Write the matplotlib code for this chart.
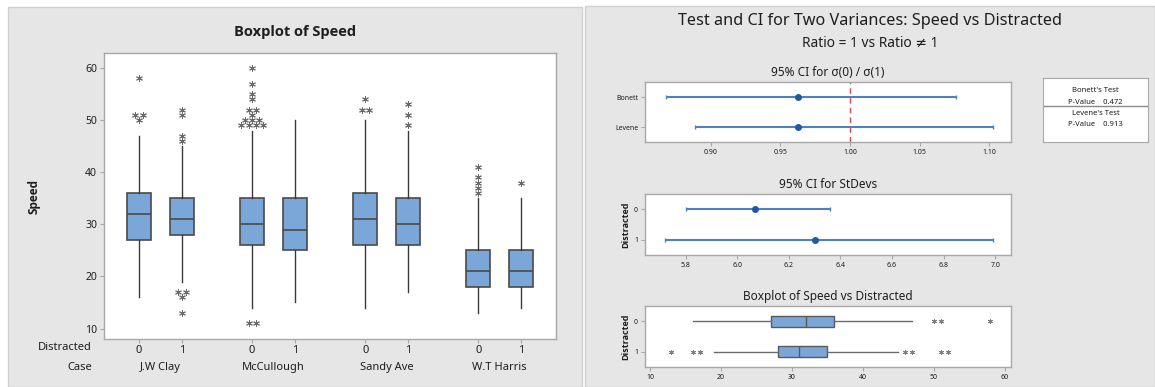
import numpy as np
import matplotlib
matplotlib.use('Agg')
import matplotlib.pyplot as plt
from matplotlib.patches import Rectangle
from collections import Counter

plt.rcParams['font.family'] = ['Noto Sans', 'DejaVu Sans']
BOLDFONT = ['Open Sans', 'Lato', 'DejaVu Sans']

cases = ['J.W Clay', 'McCullough', 'Sandy Ave', 'W.T Harris']
distracted = ['0', '1']
q1 = [27, 28, 26, 25, 26, 26, 18, 18]
med = [32, 31, 30, 29, 31, 30, 21, 21]
q3 = [36, 35, 35, 35, 36, 35, 25, 25]
whislo = [16, 19, 14, 15, 14, 17, 13, 14]
whishi = [47, 45, 48, 50, 50, 48, 35, 35]
outliers = [
    [58, 51, 51, 50],
    [52, 51, 47, 46, 17, 17, 16, 13],
    [60, 57, 55, 54, 52, 52, 51, 50, 50, 50, 49, 49, 49, 49, 11, 11],
    [],
    [54, 52, 52],
    [53, 51, 49],
    [41, 39, 38, 37, 36],
    [38],
]

ratio_methods = ['Bonett', 'Levene']
ratio_est = [0.963, 0.963]
ratio_lo = [0.868, 0.889]
ratio_hi = [1.076, 1.103]

sd_est = [6.07, 6.30]
sd_lo = [5.80, 5.72]
sd_hi = [6.36, 6.99]

bonett_p = 0.472
levene_p = 0.913

# ---- layout helpers (pixels -> figure fraction) ----
W, H = 1155, 387
def box(l, t, r, b):
    return [l / W, 1 - b / H, (r - l) / W, (b - t) / H]

BLUE = '#7aa6d8'
EDGE = '#4a4a4a'
SPINE = '#a8a8a8'
TXT = '#1e1e1e'
CI = '#4a82c4'

fig = plt.figure(figsize=(W / 100, H / 100), dpi=100)
fig.patch.set_facecolor('white')
fig.add_artist(Rectangle((8 / W, 0), (582 - 8) / W, 1 - 7 / H, transform=fig.transFigure,
                         facecolor='#e6e6e6', edgecolor='#d0d0d0', lw=1, zorder=-5))
fig.add_artist(Rectangle((585 / W, 0), (W - 585) / W, 1 - 6 / H, transform=fig.transFigure,
                         facecolor='#e6e6e6', edgecolor='#d0d0d0', lw=1, zorder=-5))

def style(ax, lsize):
    for s in ax.spines.values():
        s.set_color(SPINE)
        s.set_linewidth(1)
    ax.tick_params(colors=SPINE, labelcolor=TXT, labelsize=lsize, length=3, width=0.8, pad=2)

# ---- left: boxplot of speed by case / distracted ----
ax = fig.add_axes(box(104, 53, 556, 339))
style(ax, 7.5)
gap = 2.63
pos = [g * gap + d for g in range(len(cases)) for d in range(len(distracted))]
stats = []
for i in range(len(pos)):
    stats.append(dict(med=med[i], q1=q1[i], q3=q3[i], whislo=whislo[i], whishi=whishi[i], fliers=[]))
ax.bxp(stats, positions=pos, widths=0.55, patch_artist=True, showfliers=False, showcaps=False,
       boxprops=dict(facecolor=BLUE, edgecolor=EDGE, lw=1.2),
       medianprops=dict(color=EDGE, lw=1.2),
       whiskerprops=dict(color='#3a3a3a', lw=1))
# identical outliers are spread side by side, as Minitab does
for i, vals in enumerate(outliers):
    for v, n in Counter(vals).items():
        offs = (np.arange(n) - (n - 1) / 2) * 0.165
        ax.plot(pos[i] + offs, [v] * n, ls='none', marker=(6, 2, 0), ms=4.8, mew=0.7, color='#6a6a6a')
ax.set_xlim(-0.815, 9.70)
ax.set_ylim(7.99, 62.88)
ax.set_yticks([10, 20, 30, 40, 50, 60])
ax.set_xticks(pos)
ax.set_xticklabels(distracted * len(cases))
ax.tick_params(axis='x', pad=1, labelsize=8)
ax.set_ylabel('Speed', fontsize=8.5, fontweight='bold', family=BOLDFONT, color=TXT, labelpad=32)
tr = ax.get_xaxis_transform()
for g, name in enumerate(cases):
    ax.text(g * gap + 0.5, -0.098, name, transform=tr, ha='center', va='center', fontsize=8, color=TXT)
ax.text(-0.027, -0.031, 'Distracted', transform=ax.transAxes, ha='right', va='center', fontsize=8, color=TXT)
ax.text(-0.027, -0.098, 'Case', transform=ax.transAxes, ha='right', va='center', fontsize=8, color=TXT)
fig.text(295 / W, 1 - 32 / H, 'Boxplot of Speed', ha='center', va='center', fontsize=10.5,
         fontweight='bold', family=BOLDFONT, color=TXT)

# ---- right: two variances test ----
fig.text(870 / W, 1 - 21 / H, 'Test and CI for Two Variances: Speed vs Distracted', ha='center',
         va='center', fontsize=11.7, color=TXT)
fig.text(870 / W, 1 - 43 / H, 'Ratio = 1 vs Ratio \u2260 1', ha='center', va='center',
         fontsize=9.9, color=TXT)

ax1 = fig.add_axes(box(645, 82, 1011, 142))
style(ax1, 5)
y = np.arange(len(ratio_methods))
est = np.array(ratio_est)
ax1.errorbar(est, y, xerr=[est - np.array(ratio_lo), np.array(ratio_hi) - est], fmt='o', color=CI,
             mfc='#1f58a6', mec='#1f58a6', ms=4, elinewidth=1.5, capsize=1.5, capthick=1)
ax1.axvline(1.0, color='#e04848', ls=(0, (4, 3)), lw=1)
ax1.set_xlim(0.853, 1.1156)
ax1.set_ylim(1.5, -0.5)
ax1.set_yticks(y)
ax1.set_yticklabels(ratio_methods)
ax1.set_xticks([0.90, 0.95, 1.00, 1.05, 1.10])
ax1.set_xticklabels(['0.90', '0.95', '1.00', '1.05', '1.10'])
ax1.set_title('95% CI for \u03c3(0) / \u03c3(1)', fontsize=8.5, color=TXT, pad=4)

ax2 = fig.add_axes(box(645, 194, 1011, 255))
style(ax2, 5)
est = np.array(sd_est)
y = np.arange(len(distracted))
ax2.errorbar(est, y, xerr=[est - np.array(sd_lo), np.array(sd_hi) - est], fmt='o', color=CI,
             mfc='#1f58a6', mec='#1f58a6', ms=4, elinewidth=1.5, capsize=1.5, capthick=1)
ax2.set_xlim(5.643, 7.061)
ax2.set_ylim(1.5, -0.5)
ax2.set_yticks(y)
ax2.set_yticklabels(distracted)
ax2.set_xticks([5.8, 6.0, 6.2, 6.4, 6.6, 6.8, 7.0])
ax2.set_xticklabels(['5.8', '6.0', '6.2', '6.4', '6.6', '6.8', '7.0'])
ax2.set_ylabel('Distracted', fontsize=6.5, fontweight='bold', family=BOLDFONT, color=TXT, labelpad=3)
ax2.set_title('95% CI for StDevs', fontsize=8.5, color=TXT, pad=4)

ax3 = fig.add_axes(box(645, 306, 1011, 367))
style(ax3, 5)
stats3 = [dict(med=med[i], q1=q1[i], q3=q3[i], whislo=whislo[i], whishi=whishi[i], fliers=[])
          for i in range(2)]
ax3.bxp(stats3, positions=y, widths=0.36, vert=False, patch_artist=True, showfliers=False,
        showcaps=False, boxprops=dict(facecolor=BLUE, edgecolor='#5a5a5a', lw=1),
        medianprops=dict(color='#5a5a5a', lw=1), whiskerprops=dict(color='#6a6a6a', lw=1))
for i in range(2):
    ax3.plot(outliers[i], [y[i]] * len(outliers[i]), ls='none', marker=(6, 2, 0), ms=3.5, mew=0.7,
             color='#808080')
ax3.set_xlim(9.3, 60.9)
ax3.set_ylim(1.5, -0.5)
ax3.set_yticks(y)
ax3.set_yticklabels(distracted)
ax3.set_xticks([10, 20, 30, 40, 50, 60])
ax3.set_xticklabels(['10', '20', '30', '40', '50', '60'])
ax3.set_ylabel('Distracted', fontsize=6.5, fontweight='bold', family=BOLDFONT, color=TXT, labelpad=3)
ax3.set_title('Boxplot of Speed vs Distracted', fontsize=8.5, color=TXT, pad=4)

# ---- p-value box ----
axp = fig.add_axes(box(1043, 78, 1148, 142))
axp.set_xticks([])
axp.set_yticks([])
for s in axp.spines.values():
    s.set_color(SPINE)
axp.axhline(0.56, color='#8a8a8a', lw=1)
axp.text(0.5, 0.80, "Bonett's Test", ha='center', va='center', fontsize=5.5, color=TXT)
axp.text(0.5, 0.62, 'P-Value    %.3f' % bonett_p, ha='center', va='center', fontsize=5.5, color=TXT)
axp.text(0.5, 0.45, "Levene's Test", ha='center', va='center', fontsize=5.5, color=TXT)
axp.text(0.5, 0.27, 'P-Value    %.3f' % levene_p, ha='center', va='center', fontsize=5.5, color=TXT)

fig.savefig('out.png', dpi=100)
